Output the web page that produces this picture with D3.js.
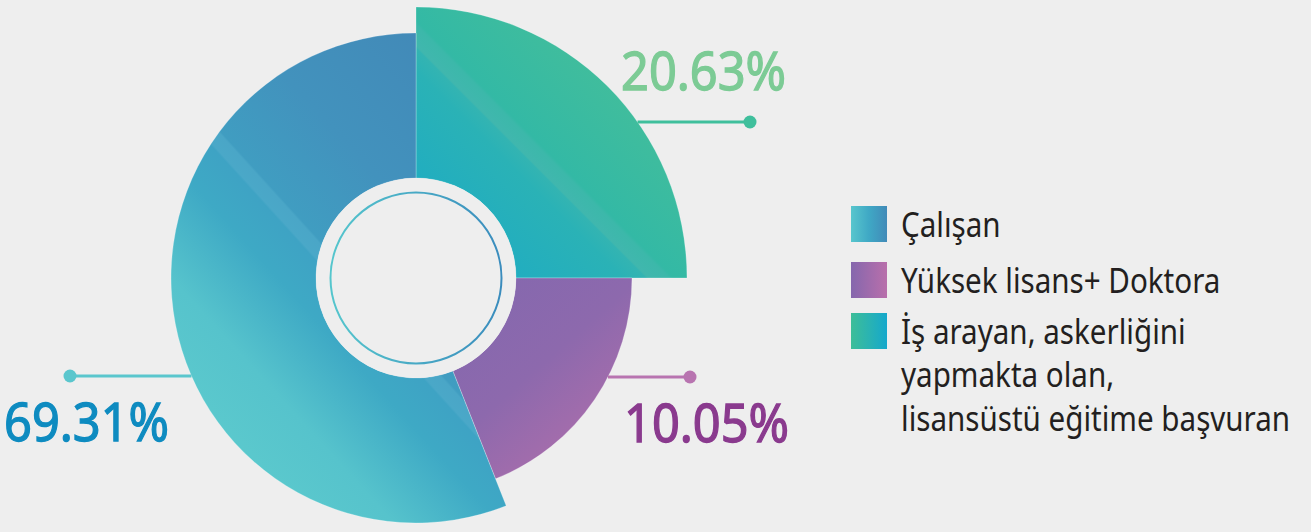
<!DOCTYPE html>
<html>
<head>
<meta charset="utf-8">
<script src="https://cdn.jsdelivr.net/npm/d3@7"></script>
<style>
  body { margin: 0; background: #eeeeee; }
  svg { display: block; }
</style>
</head>
<body>
<div id="chart"></div>
<script>
// Data
const categories = ["Çalışan", "Yüksek lisans+ Doktora", "İş arayan, askerliğini yapmakta olan, lisansüstü eğitime başvuran"];
const percentLabels = [69.31, 10.05, 20.63];
// share of the circle each slice takes in the drawing (not proportional to the labels)
const arcShares = [56, 19, 25];
const legendLines = [
    ["Çalışan"],
    ["Yüksek lisans+ Doktora"],
    ["İş arayan, askerliğini", "yapmakta olan,", "lisansüstü eğitime başvuran"]
];

const width = 1311;
const height = 532;
const cx = 416, cy = 278;
const holeR = 100;
const outerR = [245, 216, 271];
const drawOrder = [2, 1, 0]; // clockwise from 12 o'clock

const svg = d3.select("#chart")
    .append("svg")
    .attr("width", width)
    .attr("height", height);

svg.append("rect")
    .attr("width", width)
    .attr("height", height)
    .attr("fill", "#eeeeee");

const defs = svg.append("defs");

// gradients for the slices (page coordinates, diagonal)
function addGrad(id, x1, y1, x2, y2, stops) {
    const g = defs.append("linearGradient")
        .attr("id", id)
        .attr("gradientUnits", "userSpaceOnUse")
        .attr("gradientTransform", `translate(${-cx},${-cy})`)
        .attr("x1", x1).attr("y1", y1)
        .attr("x2", x2).attr("y2", y2);
    stops.forEach(s => g.append("stop").attr("offset", s[0]).attr("stop-color", s[1]));
}

addGrad("g0", 250, 470, 558, 190, [
    [0, "#5bc9cd"], [0.17, "#56c3cc"], [0.36, "#3ea9c5"], [0.455, "#3ea3c4"],
    [0.46, "#4aa8c8"], [0.49, "#4aa6c7"], [0.495, "#409dc1"], [0.7, "#4292bd"], [1, "#428ab8"]
]);
addGrad("g1", 470, 300, 610, 460, [
    [0, "#8568ae"], [0.45, "#8d69ad"], [1, "#b16fab"]
]);
addGrad("g2", 470, 332, 700, 102, [
    [0, "#19a9c9"], [0.45, "#2ab2b6"], [0.5, "#33b4b2"], [0.505, "#40b7ae"],
    [0.55, "#3cb8aa"], [0.56, "#33b9a5"], [1, "#48bf98"]
]);

// legend gradients (horizontal)
function addLegGrad(id, stops) {
    const g = defs.append("linearGradient").attr("id", id)
        .attr("x1", 0).attr("y1", 0).attr("x2", 1).attr("y2", 0);
    stops.forEach(s => g.append("stop").attr("offset", s[0]).attr("stop-color", s[1]));
}
addLegGrad("l0", [[0, "#58c6cd"], [0.5, "#3fa8c5"], [1, "#418ab8"]]);
addLegGrad("l1", [[0, "#8567ad"], [1, "#b96fab"]]);
addLegGrad("l2", [[0, "#3dbe98"], [0.5, "#2ab3b2"], [1, "#14a8cc"]]);
addLegGrad("ring", [[0, "#55c6cd"], [1, "#3a8cbd"]]);

const pie = d3.pie()
    .sort(null)
    .value(i => arcShares[i]);

const arcs = pie(drawOrder);

svg.selectAll("path.slice")
    .data(arcs)
    .enter()
    .append("path")
    .attr("class", "slice")
    .attr("d", d => d3.arc()
        .innerRadius(holeR)
        .outerRadius(outerR[d.data])
        .startAngle(d.startAngle)
        .endAngle(d.endAngle)())
    .attr("transform", `translate(${cx},${cy})`)
    .attr("fill", d => `url(#g${d.data})`)
    .attr("stroke", "rgba(255,255,255,0.25)")
    .attr("stroke-width", 1);

// hole
svg.append("circle")
    .attr("cx", cx).attr("cy", cy)
    .attr("r", holeR)
    .attr("fill", "#eeeeee");

svg.append("circle")
    .attr("cx", cx).attr("cy", cy)
    .attr("r", 85.5)
    .attr("fill", "none")
    .attr("stroke", "url(#ring)")
    .attr("stroke-width", 2);

// leader lines and percentage labels
const labelStyle = [
    { dy: 98, side: -1, end: 70, color: "#5ac6cd", text: "#0e8bc0", tx: 4, ty: 441 },
    { dy: 99, side: 1, end: 690, color: "#b874b0", text: "#8a3a8e", tx: 624, ty: 442 },
    { dy: -156, side: 1, end: 750, color: "#3fbf9c", text: "#7ccb95", tx: 621, ty: 90 }
];

percentLabels.forEach((v, i) => {
    const s = labelStyle[i];
    const r = outerR[i];
    const x0 = cx + s.side * Math.sqrt(r * r - s.dy * s.dy);
    const y0 = cy + s.dy;
    svg.append("line")
        .attr("x1", x0).attr("y1", y0)
        .attr("x2", s.end).attr("y2", y0)
        .attr("stroke", s.color)
        .attr("stroke-width", 3);
    svg.append("circle")
        .attr("cx", s.end).attr("cy", y0)
        .attr("r", 6.5)
        .attr("fill", s.color);
    svg.append("text")
        .attr("transform", `translate(${s.tx},${s.ty}) scale(0.92,1)`)
        .style("font-family", "Noto Sans")
        .style("font-size", "53px")
        .attr("fill", s.text)
        .attr("stroke", s.text)
        .attr("stroke-width", 1.3)
        .text(v.toFixed(2) + "%");
});

// legend
const legendTop = [206, 262, 313];
const legend = svg.append("g");
categories.forEach((c, i) => {
    legend.append("rect")
        .attr("x", 851).attr("y", legendTop[i])
        .attr("width", 36).attr("height", 36)
        .attr("fill", `url(#l${i})`);
    const t = legend.append("g")
        .attr("transform", `translate(901,${legendTop[i] + 31}) scale(0.87,1)`);
    legendLines[i].forEach((line, j) => {
        t.append("text")
            .attr("x", 0).attr("y", j * 43.5)
            .style("font-family", "Noto Sans")
            .style("font-size", "34px")
            .attr("fill", "#231f20")
            .text(line);
    });
});
</script>
</body>
</html>
